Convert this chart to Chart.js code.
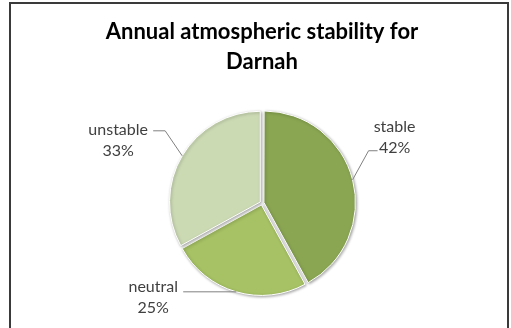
<!doctype html>
<html lang="en">

<head>
    <meta charset="utf-8">
    <title>Annual atmospheric stability for Darnah</title>
    <script src="https://cdn.jsdelivr.net/npm/chart.js"></script>
    <style>
        html, body { margin: 0; padding: 0; background: #fff; }
        .chart-wrap { position: relative; width: 511px; height: 328px; }
    </style>
</head>

<body>
    <div class="chart-wrap">
        <canvas id="pieChart" width="511" height="328"></canvas>
    </div>
    <script>
        // stability classes and their yearly share (%)
        const categories = ['stable', 'neutral', 'unstable'];
        const shares = [42, 25, 33];
        const sliceColors = ['#8aa652', '#a6c264', '#ccdab4'];

        // where each label sits, relative to the point on the slice edge
        const labelLayout = [
            { elbow: [16, -29], end: [25, -29], text: [42, -53] },
            { elbow: [0, 0], end: [-53, 0], text: [-83, -5] },
            { elbow: [-17, -25], end: [-29, -25], text: [-64, -26] }
        ];

        const frame = {
            id: 'frame',
            beforeDraw(chart) {
                const c = chart.ctx;
                c.save();
                c.strokeStyle = '#3a3a3a';
                c.lineWidth = 2;
                c.beginPath();
                c.moveTo(10, 330);
                c.lineTo(10, 3);
                c.lineTo(508, 3);
                c.lineTo(508, 330);
                c.stroke();
                c.restore();
            }
        };

        // soft shadow under the slices
        const sliceShadow = {
            id: 'sliceShadow',
            beforeDatasetsDraw(chart) {
                const c = chart.ctx;
                c.save();
                c.shadowColor = 'rgba(0,0,0,0.35)';
                c.shadowBlur = 3;
                c.shadowOffsetX = 1;
                c.shadowOffsetY = 1;
            },
            afterDatasetsDraw(chart) {
                chart.ctx.restore();
            }
        };

        const leaderLabels = {
            id: 'leaderLabels',
            afterDatasetsDraw(chart) {
                const c = chart.ctx;
                const meta = chart.getDatasetMeta(0);
                meta.data.forEach((arc, i) => {
                    const { x, y, startAngle, endAngle, outerRadius, circumference } = arc.getProps(
                        ['x', 'y', 'startAngle', 'endAngle', 'outerRadius', 'circumference'], true);
                    const mid = (startAngle + endAngle) / 2;
                    const off = (arc.options.offset || 0) / 4;
                    const fix = 1 - Math.sin(Math.min(Math.PI, circumference || 0));
                    const r = outerRadius + off * (1 + fix);
                    const px = x + Math.cos(mid) * r;
                    const py = y + Math.sin(mid) * r;
                    const lay = labelLayout[i];

                    c.save();
                    c.strokeStyle = '#808080';
                    c.lineWidth = 1;
                    c.beginPath();
                    c.moveTo(px, py);
                    c.lineTo(px + lay.elbow[0], py + lay.elbow[1]);
                    c.lineTo(px + lay.end[0], py + lay.end[1]);
                    c.stroke();

                    c.fillStyle = '#404040';
                    c.font = '16px Lato';
                    c.textAlign = 'center';
                    c.textBaseline = 'middle';
                    const tx = px + lay.text[0];
                    const ty = py + lay.text[1];
                    c.fillText(categories[i], tx, ty);
                    c.fillText(shares[i] + '%', tx, ty + 21);
                    c.restore();
                });
            }
        };

        new Chart(document.getElementById('pieChart'), {
            type: 'pie',
            data: {
                labels: categories,
                datasets: [{
                    data: shares,
                    backgroundColor: sliceColors,
                    borderColor: '#ffffff',
                    borderWidth: 1,
                    offset: 8
                }]
            },
            options: {
                responsive: false,
                animation: false,
                events: [],
                layout: { padding: { left: 13, right: 0, top: 0, bottom: 30 } },
                plugins: {
                    legend: { display: false },
                    tooltip: { enabled: false },
                    title: {
                        display: true,
                        text: ['Annual atmospheric stability for', 'Darnah'],
                        color: '#000',
                        font: { family: 'Lato', size: 22, weight: 'bold', lineHeight: 1.364 },
                        padding: { top: 17, bottom: 31 }
                    }
                }
            },
            plugins: [frame, sliceShadow, leaderLabels]
        });
    </script>
</body>

</html>
